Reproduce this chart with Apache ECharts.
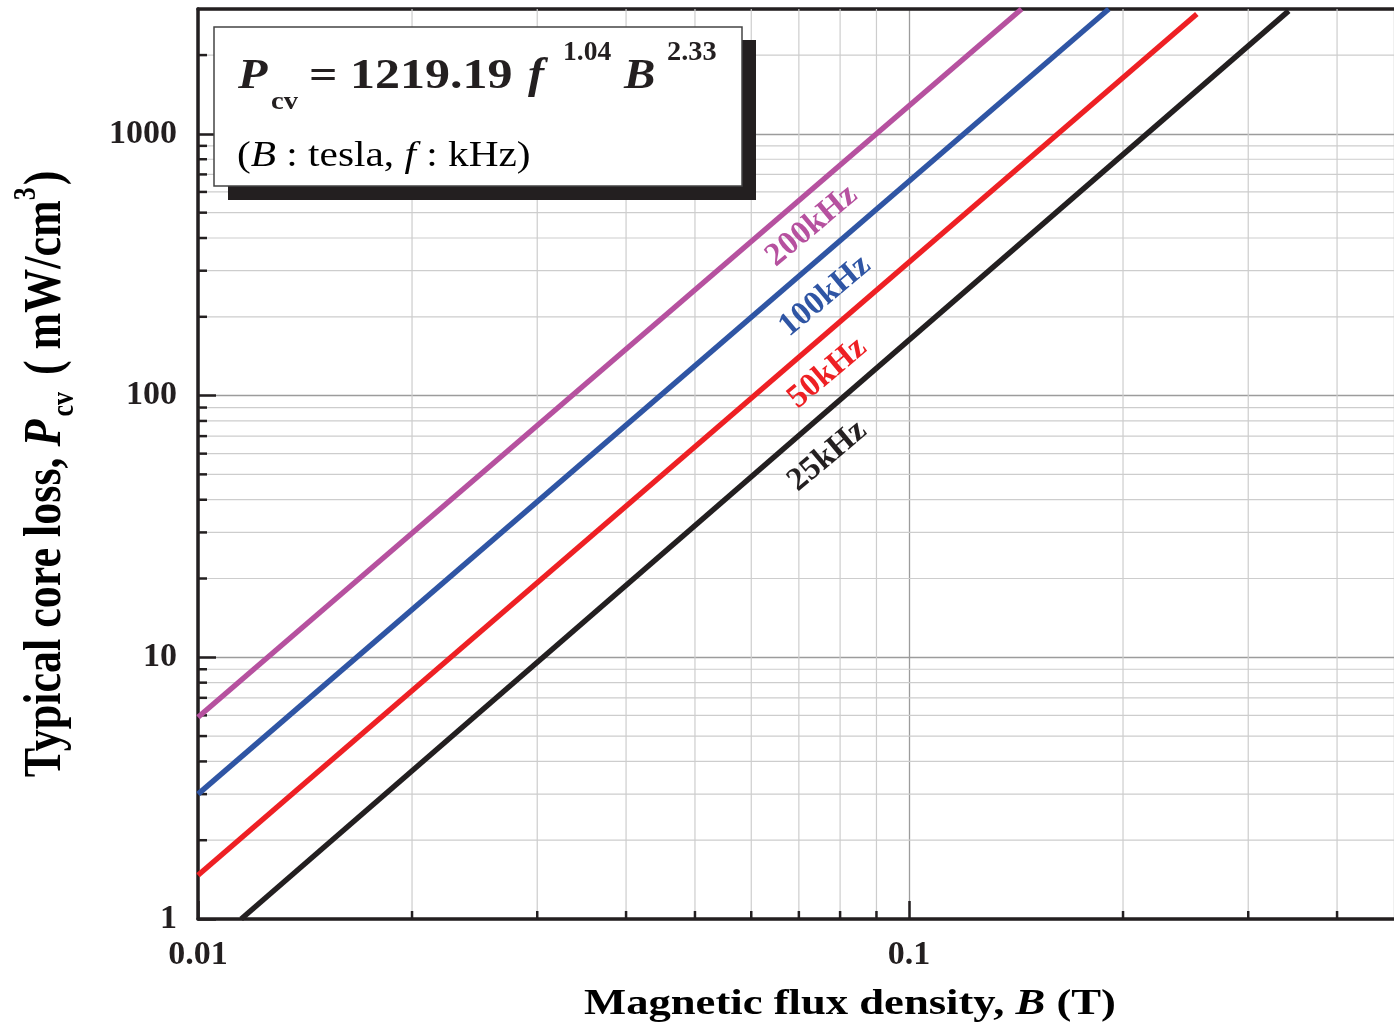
<!DOCTYPE html>
<html>
<head>
<meta charset="utf-8">
<script src="https://cdn.jsdelivr.net/npm/echarts@6/dist/echarts.min.js"></script>
<style>
html,body{margin:0;padding:0;background:#fff;}
#chart{width:1394px;height:1029px;}
</style>
</head>
<body>
<div id="chart"></div>
<script>
// ---- data ----
const seriesNames = ['25kHz', '50kHz', '100kHz', '200kHz'];
const B25 = [0.0115, 0.342];   const P25 = [1, 2950];
const B50 = [0.01, 0.254];     const P50 = [1.47, 2870];
const B100 = [0.01, 0.191];    const P100 = [3.0, 3000];
const B200 = [0.01, 0.144];    const P200 = [5.9, 3000];
const labelB = [0.0768, 0.0768, 0.0762, 0.0730];
const labelP = [58.8, 122, 240, 445];
const xRange = [0.01, 0.481];
const yRange = [1, 3000];
const xTickLabels = [0.01, 0.1];
const yTickLabels = [1, 10, 100, 1000];
const yMinor = [2,3,4,5,6,7,8,9,20,30,40,50,60,70,80,90,200,300,400,500,600,700,800,900,2000];
const xMinor = [0.02,0.03,0.04,0.05,0.06,0.07,0.08,0.09,0.2,0.3,0.4];

const colors = ['#231F20', '#EE2024', '#2F55A4', '#B6519F'];
const INK = '#231F20';
const SERIF = '"Liberation Serif","Times New Roman",serif';

const chart = echarts.init(document.getElementById('chart'), null, {renderer: 'canvas'});

function pairs(bs, ps) { return bs.map((b, i) => [b, ps[i]]); }
const lineData = [pairs(B25, P25), pairs(B50, P50), pairs(B100, P100), pairs(B200, P200)];

function tickFormatter(list) {
  return function (v) {
    for (const t of list) { if (Math.abs(v - t) / t < 1e-6) return String(t); }
    return '';
  };
}

const lineSeries = lineData.map((d, i) => ({
  name: seriesNames[i],
  type: 'line',
  data: d,
  showSymbol: false,
  symbol: 'none',
  clip: true,
  silent: true,
  z: 3,
  lineStyle: {color: colors[i], width: 5.4, cap: 'butt'}
}));

const option = {
  animation: false,
  backgroundColor: '#fff',
  grid: {left: 198, top: 9, right: 0, bottom: 110, containLabel: false, outerBoundsMode: 'none'},
  xAxis: [{
    type: 'log', logBase: 10, min: xRange[0], max: xRange[1],
    axisLine: {show: true, lineStyle: {color: INK, width: 3.5}},
    axisTick: {show: true, inside: true, length: 18, lineStyle: {color: INK, width: 2.5}},
    axisLabel: {margin: 19, fontFamily: SERIF, fontWeight: 'bold', fontSize: 34, color: INK,
      showMaxLabel: false, formatter: tickFormatter(xTickLabels)},
    splitLine: {show: true, lineStyle: {color: '#9c9c9c', width: 1.3}},
    minorTick: {show: false}, minorSplitLine: {show: false}
  }, {
    type: 'value', position: 'top', min: 0, max: 1,
    axisLine: {show: true, lineStyle: {color: INK, width: 3.5}},
    axisTick: {show: false}, axisLabel: {show: false}, splitLine: {show: false}
  }],
  yAxis: [{
    type: 'log', logBase: 10, min: yRange[0], max: yRange[1],
    axisLine: {show: true, lineStyle: {color: INK, width: 3.5}},
    axisTick: {show: true, inside: true, length: 18, lineStyle: {color: INK, width: 2.5}},
    axisLabel: {margin: 21, fontFamily: SERIF, fontWeight: 'bold', fontSize: 34, color: INK,
      showMaxLabel: false, formatter: tickFormatter(yTickLabels)},
    splitLine: {show: true, lineStyle: {color: '#9c9c9c', width: 1.3}},
    minorTick: {show: false}, minorSplitLine: {show: false}
  }],
  series: [
    {
      type: 'custom', name: 'yMinor', silent: true, z: 1,
      data: yMinor.map(v => [xRange[0], v]),
      renderItem: function (params, api) {
        const cs = params.coordSys;
        const y = api.coord([xRange[0], api.value(1)])[1];
        return {type: 'group', children: [
          {type: 'line', shape: {x1: cs.x, y1: y, x2: cs.x + cs.width, y2: y}, style: {stroke: '#cdcdcd', lineWidth: 1.2}},
          {type: 'line', z2: 5, shape: {x1: cs.x, y1: y, x2: cs.x + 9, y2: y}, style: {stroke: INK, lineWidth: 2.5}}
        ]};
      }
    },
    {
      type: 'custom', name: 'xMinor', silent: true, z: 1,
      data: xMinor.map(v => [v, yRange[0]]),
      renderItem: function (params, api) {
        const cs = params.coordSys;
        const x = api.coord([api.value(0), yRange[0]])[0];
        return {type: 'group', children: [
          {type: 'line', shape: {x1: x, y1: cs.y, x2: x, y2: cs.y + cs.height}, style: {stroke: '#cdcdcd', lineWidth: 1.2}},
          {type: 'line', z2: 5, shape: {x1: x, y1: cs.y + cs.height, x2: x, y2: cs.y + cs.height - 8}, style: {stroke: INK, lineWidth: 2.5}}
        ]};
      }
    },
    ...lineSeries,
    {
      type: 'custom', name: 'labels', silent: true, z: 4,
      data: labelB.map((b, i) => [b, labelP[i], i]),
      renderItem: function (params, api) {
        const p = api.coord([api.value(0), api.value(1)]);
        const i = api.value(2);
        return {
          type: 'text', x: p[0], y: p[1], rotation: 40 * Math.PI / 180,
          style: {
            text: seriesNames[i], fill: colors[i],
            font: 'bold 33px ' + SERIF, align: 'center', verticalAlign: 'middle'
          }
        };
      }
    }
  ],
  graphic: [
    {type: 'rect', z: 100, shape: {x: 228, y: 40, width: 528, height: 160}, style: {fill: INK}},
    {type: 'rect', z: 101, shape: {x: 214, y: 27, width: 528, height: 159}, style: {fill: '#fff', stroke: '#444', lineWidth: 1.5}},
    {type: 'text', z: 102, x: 238, y: 77, scaleX: 1.12, style: {text: 'P', font: 'italic bold 43px ' + SERIF, fill: INK, align: 'left', verticalAlign: 'middle'}},
    {type: 'text', z: 102, x: 271, y: 102, scaleX: 1.1, style: {text: 'cv', font: 'bold 26px ' + SERIF, fill: INK, align: 'left', verticalAlign: 'middle'}},
    {type: 'text', z: 102, x: 309, y: 77, scaleX: 1.19, style: {text: '= 1219.19', font: 'bold 42px ' + SERIF, fill: INK, align: 'left', verticalAlign: 'middle'}},
    {type: 'text', z: 102, x: 528, y: 77, scaleX: 1.1, style: {text: 'f', font: 'italic bold 44px ' + SERIF, fill: INK, align: 'left', verticalAlign: 'middle'}},
    {type: 'text', z: 102, x: 563, y: 53, scaleX: 1.02, style: {text: '1.04', font: 'bold 27px ' + SERIF, fill: INK, align: 'left', verticalAlign: 'middle'}},
    {type: 'text', z: 102, x: 624, y: 77, scaleX: 1.12, style: {text: 'B', font: 'italic bold 42px ' + SERIF, fill: INK, align: 'left', verticalAlign: 'middle'}},
    {type: 'text', z: 102, x: 667, y: 53, scaleX: 1.05, style: {text: '2.33', font: 'bold 27px ' + SERIF, fill: INK, align: 'left', verticalAlign: 'middle'}},
    {type: 'text', z: 102, x: 237, y: 157, scaleX: 1.18, style: {
      text: '{n|(}{i|B}{n| : tesla, }{i|f}{n| : kHz)}', align: 'left', verticalAlign: 'middle',
      rich: {
        n: {fontFamily: SERIF, fontSize: 35, color: INK},
        i: {fontFamily: SERIF, fontSize: 35, fontStyle: 'italic', color: INK}
      }
    }},
    {type: 'text', z: 102, x: 850, y: 1005, scaleX: 1.24, style: {
      text: '{n|Magnetic flux density, }{i|B}{n| (T)}', align: 'center', verticalAlign: 'middle',
      rich: {
        n: {fontFamily: SERIF, fontWeight: 'bold', fontSize: 36, color: INK},
        i: {fontFamily: SERIF, fontWeight: 'bold', fontStyle: 'italic', fontSize: 36, color: INK}
      }
    }},
    {type: 'text', z: 102, x: 46, y: 474, rotation: Math.PI / 2, scaleY: 1.2, style: {
      text: '{n|Typical core loss, }{i|P}{s|cv}{n| ( mW/cm}{u|3}{n|)}', align: 'center', verticalAlign: 'middle',
      rich: {
        n: {fontFamily: SERIF, fontWeight: 'bold', fontSize: 44, color: INK, lineHeight: 58, verticalAlign: 'middle'},
        i: {fontFamily: SERIF, fontWeight: 'bold', fontStyle: 'italic', fontSize: 44, color: INK, lineHeight: 58, verticalAlign: 'middle'},
        s: {fontFamily: SERIF, fontWeight: 'bold', fontSize: 26, color: INK, lineHeight: 58, verticalAlign: 'bottom', padding: [0, 6, 0, 3]},
        u: {fontFamily: SERIF, fontWeight: 'bold', fontSize: 26, color: INK, lineHeight: 58, verticalAlign: 'top', padding: [0, 2, 0, 0]}
      }
    }}
  ]
};
chart.setOption(option);
</script>
</body>
</html>
